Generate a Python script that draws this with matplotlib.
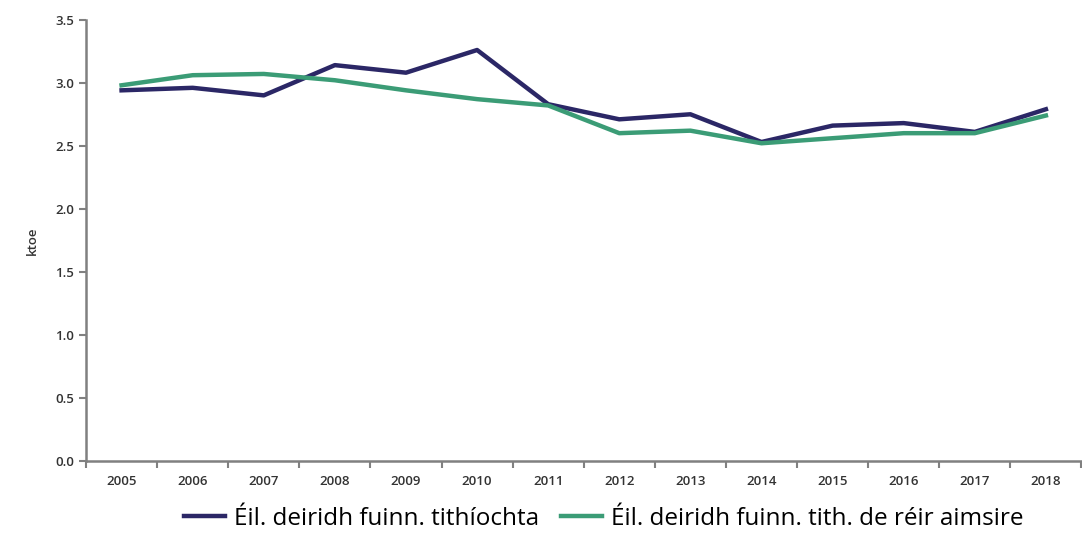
import numpy as np
import matplotlib.pyplot as plt

# --- data ---
YEARS = [str(y) for y in range(2005, 2019)]
FINAL_DEMAND = [2.94, 2.96, 2.90, 3.14, 3.08, 3.26, 2.83, 2.71, 2.75, 2.53, 2.66, 2.68, 2.61, 2.79]
WEATHER_ADJ = [2.98, 3.06, 3.07, 3.02, 2.94, 2.87, 2.82, 2.60, 2.62, 2.52, 2.56, 2.60, 2.60, 2.74]
LABELS = ["Éil. deiridh fuinn. tithíochta", "Éil. deiridh fuinn. tith. de réir aimsire"]
COLORS = ["#2b2766", "#3b9c76"]

plt.rcParams['font.family'] = ['Open Sans', 'DejaVu Sans']

fig = plt.figure(figsize=(10.82, 5.34), dpi=100)
ax = fig.add_axes([0.0795, 0.137, 0.92, 0.826])

x = np.arange(len(YEARS))
ax.plot(x, FINAL_DEMAND, color=COLORS[0], lw=3.2, label=LABELS[0])
ax.plot(x, WEATHER_ADJ, color=COLORS[1], lw=3.2, label=LABELS[1])

ax.set_xlim(-0.5, len(YEARS) - 0.5)
ax.set_ylim(0, 3.5)
ax.set_yticks(np.arange(0, 3.51, 0.5))
ax.set_yticklabels([f"{v:.1f}" for v in np.arange(0, 3.51, 0.5)], fontsize=9.5,
                   color="#333333", fontweight='semibold')
ax.set_xticks(x)
ax.set_xticklabels(YEARS, fontsize=9.5, color="#333333", fontweight='semibold')
ax.set_xticks(np.arange(-0.5, len(YEARS), 1.0), minor=True)
ax.tick_params(axis='x', which='major', length=0, pad=10)
ax.tick_params(axis='x', which='minor', length=5, color="#808080", width=1.5)
ax.tick_params(axis='y', length=5, color="#808080", width=1.5)
ax.set_ylabel("ktoe", fontsize=9.5, color="#333333", labelpad=12, fontweight='semibold')

for side in ['top', 'right']:
    ax.spines[side].set_visible(False)
for side in ['left', 'bottom']:
    ax.spines[side].set_color("#808080")
    ax.spines[side].set_linewidth(1.8)

ax.legend(loc='upper center', bbox_to_anchor=(0.52, -0.066), ncol=2, frameon=False,
          fontsize=17.5, handlelength=1.7, columnspacing=0.9, handletextpad=0.35,
          borderpad=0.2)

fig.savefig("out.png", dpi=100)
